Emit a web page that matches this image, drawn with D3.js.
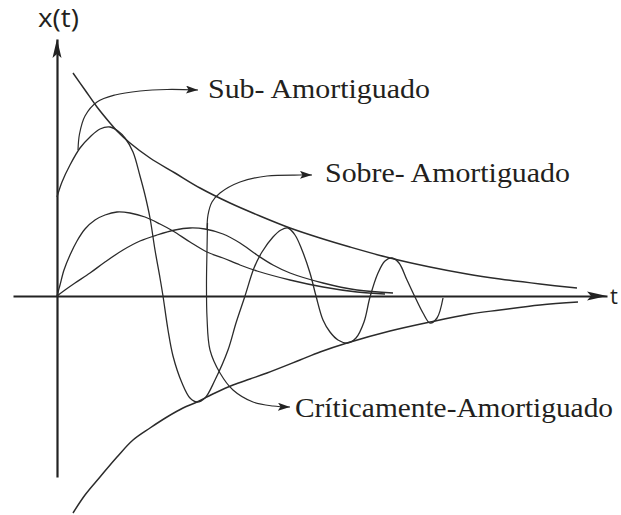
<!DOCTYPE html>
<html>
<head>
<meta charset="utf-8">
<script src="https://cdn.jsdelivr.net/npm/d3@7"></script>
<style>
  html, body { margin: 0; padding: 0; background: #ffffff; }
  svg { display: block; }
</style>
</head>
<body>
<svg id="chart" width="621" height="515"></svg>
<script>
// ---------- data (t, x(t)) ----------
const axisLabelY = "x(t)";
const axisLabelX = "t";
const tAxisExtent = [-0.88, 11.0];
const xAxisExtent = [-3.62, 5.14];

const upperEnvelope = [
  [0.32, 4.46], [0.56, 4.12], [0.80, 3.78], [1.06, 3.46], [1.20, 3.30], [1.46, 3.06],
  [1.86, 2.76], [2.36, 2.46], [2.86, 2.16], [3.46, 1.86], [4.06, 1.60], [4.66, 1.36],
  [5.26, 1.16], [5.86, 0.98], [6.66, 0.76], [7.46, 0.58], [8.20, 0.44], [8.86, 0.34],
  [9.66, 0.24], [10.40, 0.16]
];
const lowerEnvelope = [
  [0.32, -4.34], [0.56, -3.98], [0.86, -3.62], [1.20, -3.22], [1.52, -2.88], [1.86, -2.64],
  [2.20, -2.42], [2.52, -2.24], [2.80, -2.12], [3.16, -1.94], [3.52, -1.78], [3.86, -1.66],
  [4.20, -1.54], [4.86, -1.28], [5.26, -1.12], [5.80, -0.94], [6.66, -0.70], [7.46, -0.52],
  [8.26, -0.36], [8.86, -0.28], [9.66, -0.18], [10.42, -0.12]
];
const subAmortiguado = [
  [0, 1.98], [0.10, 2.28], [0.26, 2.62], [0.46, 2.96], [0.66, 3.18], [0.86, 3.34],
  [1.06, 3.38], [1.22, 3.30], [1.36, 3.16], [1.52, 2.88], [1.66, 2.40], [1.76, 2.02],
  [1.86, 1.56], [1.96, 0.92], [2.06, 0.36], [2.12, 0], [2.22, -0.68], [2.32, -1.20],
  [2.50, -1.74], [2.66, -2.04], [2.80, -2.12], [2.96, -2.04], [3.16, -1.68], [3.42, -1.08],
  [3.58, -0.54], [3.76, 0], [3.94, 0.56], [4.10, 0.88], [4.32, 1.18], [4.48, 1.32],
  [4.62, 1.36], [4.76, 1.22], [4.90, 0.92], [5.06, 0.46], [5.18, 0], [5.32, -0.48],
  [5.46, -0.72], [5.62, -0.88], [5.80, -0.94], [5.98, -0.84], [6.14, -0.52], [6.26, -0.02],
  [6.42, 0.46], [6.56, 0.70], [6.70, 0.76], [6.84, 0.66], [7.00, 0.32], [7.16, -0.02],
  [7.32, -0.34], [7.46, -0.54], [7.60, -0.44], [7.72, -0.04]
];
const criticoAmortiguado = [
  [0, 0], [0.06, 0.22], [0.14, 0.52], [0.26, 0.82], [0.40, 1.10], [0.56, 1.34],
  [0.76, 1.52], [0.96, 1.62], [1.20, 1.68], [1.46, 1.66], [1.76, 1.58], [2.06, 1.44],
  [2.32, 1.30], [2.66, 1.08], [3.00, 0.88], [3.32, 0.76], [3.66, 0.62], [4.00, 0.50],
  [4.66, 0.32], [5.32, 0.18], [6.00, 0.08], [6.56, 0.04]
];
const sobreAmortiguado = [
  [0, 0], [0.16, 0.12], [0.36, 0.26], [0.66, 0.46], [0.96, 0.68], [1.32, 0.92],
  [1.66, 1.10], [2.00, 1.22], [2.36, 1.32], [2.66, 1.36], [2.96, 1.34], [3.32, 1.24],
  [3.66, 1.06], [4.00, 0.82], [4.32, 0.62], [4.66, 0.46], [5.32, 0.26], [6.00, 0.12],
  [6.72, 0.06]
];

// callout arrows and their labels
const labels = ["Sub- Amortiguado", "Sobre- Amortiguado", "Críticamente-Amortiguado"];
const calloutSub = [
  [0.42, 2.92], [0.45, 3.24], [0.56, 3.60], [0.80, 3.88], [1.16, 4.02], [1.66, 4.10],
  [2.20, 4.13], [2.82, 4.12]
];
const calloutSobre = [
  [3.00, 1.32], [3.02, 1.62], [3.10, 1.88], [3.26, 2.06], [3.66, 2.28], [4.20, 2.40],
  [4.86, 2.42], [5.10, 2.42]
];
const calloutCritico = [
  [3.01, 1.46], [3.00, 0.92], [2.99, 0.26], [3.00, -0.42], [3.06, -1.08], [3.26, -1.54],
  [3.52, -1.88], [3.92, -2.12], [4.32, -2.20], [4.66, -2.22]
];
const labelAnchors = [[3.02, 3.96], [5.36, 2.28], [4.76, -2.42]];
const labelWidths = [222, 245, 318];

// ---------- drawing ----------
const svg = d3.select("#chart");
const x = d3.scaleLinear().domain([0, 11]).range([57, 607]);
const y = d3.scaleLinear().domain([0, 5]).range([296, 46]);

const ink = "#2b2b2b";

// axes
const tScale = d3.scaleLinear().domain(tAxisExtent).range(tAxisExtent.map(x));
const vScale = d3.scaleLinear().domain(xAxisExtent).range(xAxisExtent.map(y));
const tAxis = d3.axisBottom(tScale).tickValues([]).tickSizeOuter(0);
const vAxis = d3.axisLeft(vScale).tickValues([]).tickSizeOuter(0);

svg.append("g").attr("transform", `translate(0,${y(0)})`).call(tAxis)
  .call(g => g.select(".domain").attr("stroke", "#222").attr("stroke-width", 2.2));
svg.append("g").attr("transform", `translate(${x(0)},0)`).call(vAxis)
  .call(g => g.select(".domain").attr("stroke", "#222").attr("stroke-width", 2.2));

// axis arrowheads
const tipT = [x(tAxisExtent[1]), y(0)];
svg.append("path")
  .attr("d", `M${tipT[0]},${tipT[1]} L${tipT[0]-20},${tipT[1]-4.5} L${tipT[0]-16},${tipT[1]} L${tipT[0]-20},${tipT[1]+4.5} Z`)
  .attr("fill", "#222");
const tipV = [x(0), y(xAxisExtent[1])];
svg.append("path")
  .attr("d", `M${tipV[0]},${tipV[1]} L${tipV[0]-4.5},${tipV[1]+19} L${tipV[0]},${tipV[1]+15} L${tipV[0]+4.5},${tipV[1]+19} Z`)
  .attr("fill", "#222");

// axis labels
svg.append("text").text(axisLabelY)
  .attr("x", x(0) - 19).attr("y", y(xAxisExtent[1]) - 12)
  .attr("font-family", "'Open Sans', 'DejaVu Sans', sans-serif")
  .attr("font-size", 25).attr("fill", "#231f20")
  .attr("textLength", 41).attr("lengthAdjust", "spacingAndGlyphs");
svg.append("text").text(axisLabelX)
  .attr("x", x(tAxisExtent[1]) + 3).attr("y", y(0) + 8)
  .attr("font-family", "'Open Sans', 'DejaVu Sans', sans-serif")
  .attr("font-size", 22).attr("fill", "#231f20");

// curves
const line = d3.line().x(d => x(d[0])).y(d => y(d[1])).curve(d3.curveCatmullRom.alpha(0.5));

const curves = [
  { data: upperEnvelope, w: 1.5 },
  { data: lowerEnvelope, w: 1.5 },
  { data: sobreAmortiguado, w: 1.3 },
  { data: criticoAmortiguado, w: 1.3 },
  { data: subAmortiguado, w: 1.3 }
];
svg.append("g").selectAll("path").data(curves).join("path")
  .attr("d", d => line(d.data))
  .attr("fill", "none").attr("stroke", ink).attr("stroke-width", d => d.w);

// callout arrows
const defs = svg.append("defs");
defs.append("marker").attr("id", "head")
  .attr("viewBox", "0 0 12 8").attr("refX", 12).attr("refY", 4)
  .attr("markerWidth", 12).attr("markerHeight", 8)
  .attr("markerUnits", "userSpaceOnUse").attr("orient", "auto")
  .append("path").attr("d", "M0,0 L12,4 L0,8 L2.5,4 Z").attr("fill", "#222");

const callouts = [calloutSub, calloutSobre, calloutCritico];
svg.append("g").selectAll("path").data(callouts).join("path")
  .attr("d", d => line(d))
  .attr("fill", "none").attr("stroke", ink).attr("stroke-width", 1.2)
  .attr("marker-end", "url(#head)");

// labels
svg.append("g").selectAll("text").data(labels).join("text")
  .text(d => d)
  .attr("x", (d, i) => x(labelAnchors[i][0]))
  .attr("y", (d, i) => y(labelAnchors[i][1]))
  .attr("font-family", "'Liberation Serif', 'DejaVu Serif', serif")
  .attr("font-size", 28).attr("fill", "#231f20")
  .attr("textLength", (d, i) => labelWidths[i]).attr("lengthAdjust", "spacingAndGlyphs");
</script>
</body>
</html>
